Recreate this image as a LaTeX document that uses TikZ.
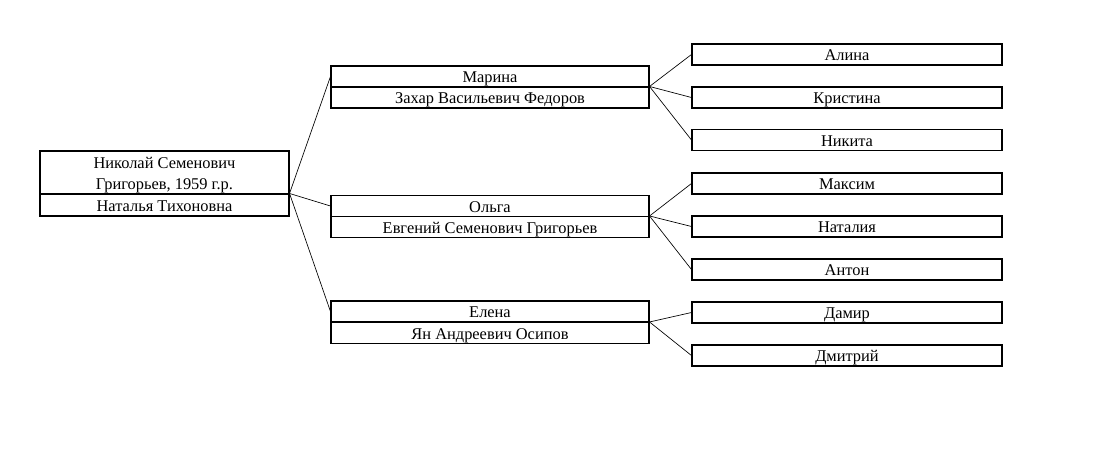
\documentclass[tikz,border=0pt]{standalone}
\usepackage{fontspec}
\setmainfont{Liberation Serif}
\begin{document}
\begin{tikzpicture}[x=0.75pt,y=-0.75pt,
  cell/.style={draw,line width=0.8pt,inner sep=0pt,font=\fontsize{12.3}{15.75}\selectfont,align=center,text height=9.5pt,text depth=0.5pt},
  root/.style={cell,minimum width=186.75pt},
  mid/.style={cell,minimum width=238.5pt,minimum height=15.75pt},
  kid/.style={cell,minimum width=232.5pt,minimum height=15.75pt},
  link/.style={line width=0.5pt}]
\useasboundingbox (0,0) rectangle (1100,461);
% root
\node[root,minimum height=32.25pt,text height=25.25pt] (rA) at (164.5,172.5) {Николай Семенович\\Григорьев, 1959 г.р.};
\node[root,minimum height=16.5pt] (rB) at (164.5,205) {Наталья Тихоновна};
% middle
\node[mid] (mA) at (490,76.5) {Марина};
\node[mid] (mB) at (490,97.5) {Захар Васильевич Федоров};
\node[mid] (oA) at (490,206) {Ольга};
\node[mid] (oB) at (490,227) {Евгений Семенович Григорьев};
\node[mid] (eA) at (490,311.5) {Елена};
\node[mid] (eB) at (490,333) {Ян Андреевич Осипов};
% children
\node[kid] (k1) at (847,54.5) {Алина};
\node[kid] (k2) at (847,97.5) {Кристина};
\node[kid] (k3) at (847,140) {Никита};
\node[kid] (k4) at (847,183.5) {Максим};
\node[kid] (k5) at (847,226.5) {Наталия};
\node[kid] (k6) at (847,269.5) {Антон};
\node[kid] (k7) at (847,312.5) {Дамир};
\node[kid] (k8) at (847,355.5) {Дмитрий};
% links
\foreach \t in {mA,oA,eA} \draw[link] (rB.north east) -- (\t.west);
\foreach \t in {k1,k2,k3} \draw[link] (mB.north east) -- (\t.west);
\foreach \t in {k4,k5,k6} \draw[link] (oB.north east) -- (\t.west);
\foreach \t in {k7,k8} \draw[link] (eB.north east) -- (\t.west);
\end{tikzpicture}
\end{document}
